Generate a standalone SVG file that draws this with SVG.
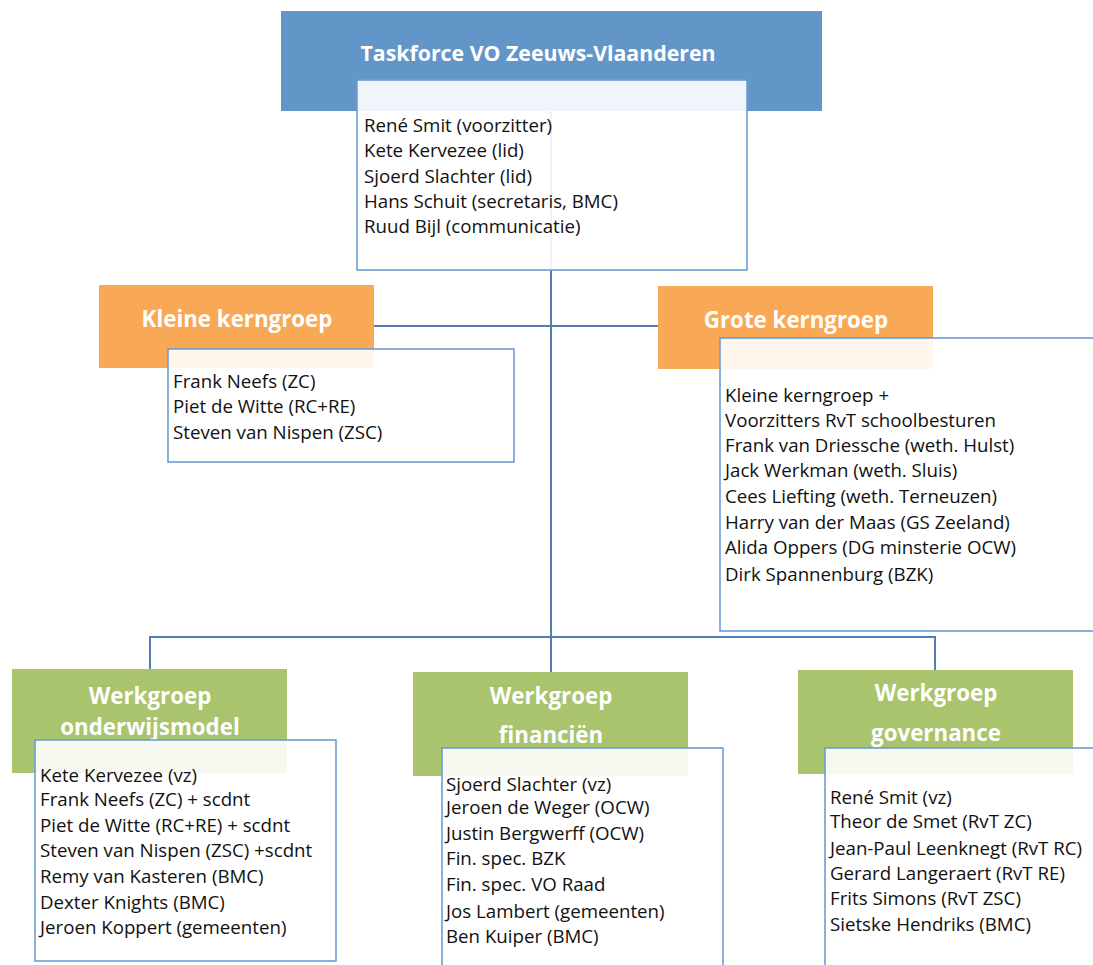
<svg xmlns="http://www.w3.org/2000/svg" width="1093" height="965" viewBox="0 0 1093 965">
<style>
.hdr-blue{fill:#6296C9}
.hdr-orange{fill:#F9A855}
.hdr-green{fill:#A9C46C}
.box{fill:#ffffff;fill-opacity:0.9;stroke:#6D9DD3;stroke-width:1.6}
.conn{fill:none;stroke:#4F7FB5;stroke-width:2}
.ttl{font-family:"Open Sans","Liberation Sans",Arial,sans-serif;font-weight:bold;font-size:22.3px;fill:#ffffff;text-anchor:middle}
.main{font-size:21.3px}
.txt{font-family:"Open Sans","Liberation Sans",Arial,sans-serif;font-size:18.7px;fill:#111111}
</style>
<rect width="1093" height="965" fill="#ffffff"/>
<g id="connectors">
<path class="conn" d="M551,111 V672"/>
<path class="conn" d="M237,326 H796"/>
<path class="conn" d="M150,669 V637 H935 V670"/>
</g>
<g id="taskforce">
<rect class="hdr-blue" x="281" y="11" width="541" height="100"/>
<text class="ttl main" x="538" y="61">Taskforce VO Zeeuws-Vlaanderen</text>
<rect class="box" x="357" y="80" width="390" height="190"/>
<text class="txt" x="364" y="132">René Smit (voorzitter)</text>
<text class="txt" x="364" y="157">Kete Kervezee (lid)</text>
<text class="txt" x="364" y="183">Sjoerd Slachter (lid)</text>
<text class="txt" x="364" y="208">Hans Schuit (secretaris, BMC)</text>
<text class="txt" x="364" y="233">Ruud Bijl (communicatie)</text>
</g>
<g id="kleine-kerngroep">
<rect class="hdr-orange" x="99" y="285" width="275" height="83"/>
<text class="ttl" x="237" y="327">Kleine kerngroep</text>
<rect class="box" x="168" y="349" width="346" height="113"/>
<text class="txt" x="173" y="388">Frank Neefs (ZC)</text>
<text class="txt" x="173" y="413">Piet de Witte (RC+RE)</text>
<text class="txt" x="173" y="439">Steven van Nispen (ZSC)</text>
</g>
<g id="grote-kerngroep">
<rect class="hdr-orange" x="658" y="286" width="275" height="83"/>
<text class="ttl" x="796" y="328">Grote kerngroep</text>
<rect class="box" x="720" y="338" width="380" height="293"/>
<text class="txt" x="725" y="402">Kleine kerngroep +</text>
<text class="txt" x="725" y="427">Voorzitters RvT schoolbesturen</text>
<text class="txt" x="725" y="452">Frank van Driessche (weth. Hulst)</text>
<text class="txt" x="725" y="477">Jack Werkman (weth. Sluis)</text>
<text class="txt" x="725" y="503">Cees Liefting (weth. Terneuzen)</text>
<text class="txt" x="725" y="529">Harry van der Maas (GS Zeeland)</text>
<text class="txt" x="725" y="554">Alida Oppers (DG minsterie OCW)</text>
<text class="txt" x="725" y="581">Dirk Spannenburg (BZK)</text>
</g>
<g id="werkgroep-onderwijsmodel">
<rect class="hdr-green" x="12" y="669" width="275" height="104"/>
<text class="ttl"><tspan x="150" y="704">Werkgroep</tspan><tspan x="150" y="735">onderwijsmodel</tspan></text>
<rect class="box" x="35" y="740" width="301" height="221"/>
<text class="txt" x="40" y="782">Kete Kervezee (vz)</text>
<text class="txt" x="40" y="806">Frank Neefs (ZC) + scdnt</text>
<text class="txt" x="40" y="832">Piet de Witte (RC+RE) + scdnt</text>
<text class="txt" x="40" y="857">Steven van Nispen (ZSC) +scdnt</text>
<text class="txt" x="40" y="883">Remy van Kasteren (BMC)</text>
<text class="txt" x="40" y="909">Dexter Knights (BMC)</text>
<text class="txt" x="40" y="934">Jeroen Koppert (gemeenten)</text>
</g>
<g id="werkgroep-financien">
<rect class="hdr-green" x="413" y="672" width="275" height="104"/>
<text class="ttl"><tspan x="551" y="704">Werkgroep</tspan><tspan x="551" y="743">financiën</tspan></text>
<rect class="box" x="442" y="748" width="281" height="230"/>
<text class="txt" x="446" y="791">Sjoerd Slachter (vz)</text>
<text class="txt" x="446" y="814">Jeroen de Weger (OCW)</text>
<text class="txt" x="446" y="840">Justin Bergwerff (OCW)</text>
<text class="txt" x="446" y="865">Fin. spec. BZK</text>
<text class="txt" x="446" y="891">Fin. spec. VO Raad</text>
<text class="txt" x="446" y="918">Jos Lambert (gemeenten)</text>
<text class="txt" x="446" y="943">Ben Kuiper (BMC)</text>
</g>
<g id="werkgroep-governance">
<rect class="hdr-green" x="798" y="670" width="275" height="104"/>
<text class="ttl"><tspan x="936" y="701">Werkgroep</tspan><tspan x="936" y="741">governance</tspan></text>
<rect class="box" x="825" y="748" width="280" height="230"/>
<text class="txt" x="830" y="804">René Smit (vz)</text>
<text class="txt" x="830" y="828">Theor de Smet (RvT ZC)</text>
<text class="txt" x="830" y="855">Jean-Paul Leenknegt (RvT RC)</text>
<text class="txt" x="830" y="880">Gerard Langeraert (RvT RE)</text>
<text class="txt" x="830" y="905">Frits Simons (RvT ZSC)</text>
<text class="txt" x="830" y="931">Sietske Hendriks (BMC)</text>
</g>
</svg>
